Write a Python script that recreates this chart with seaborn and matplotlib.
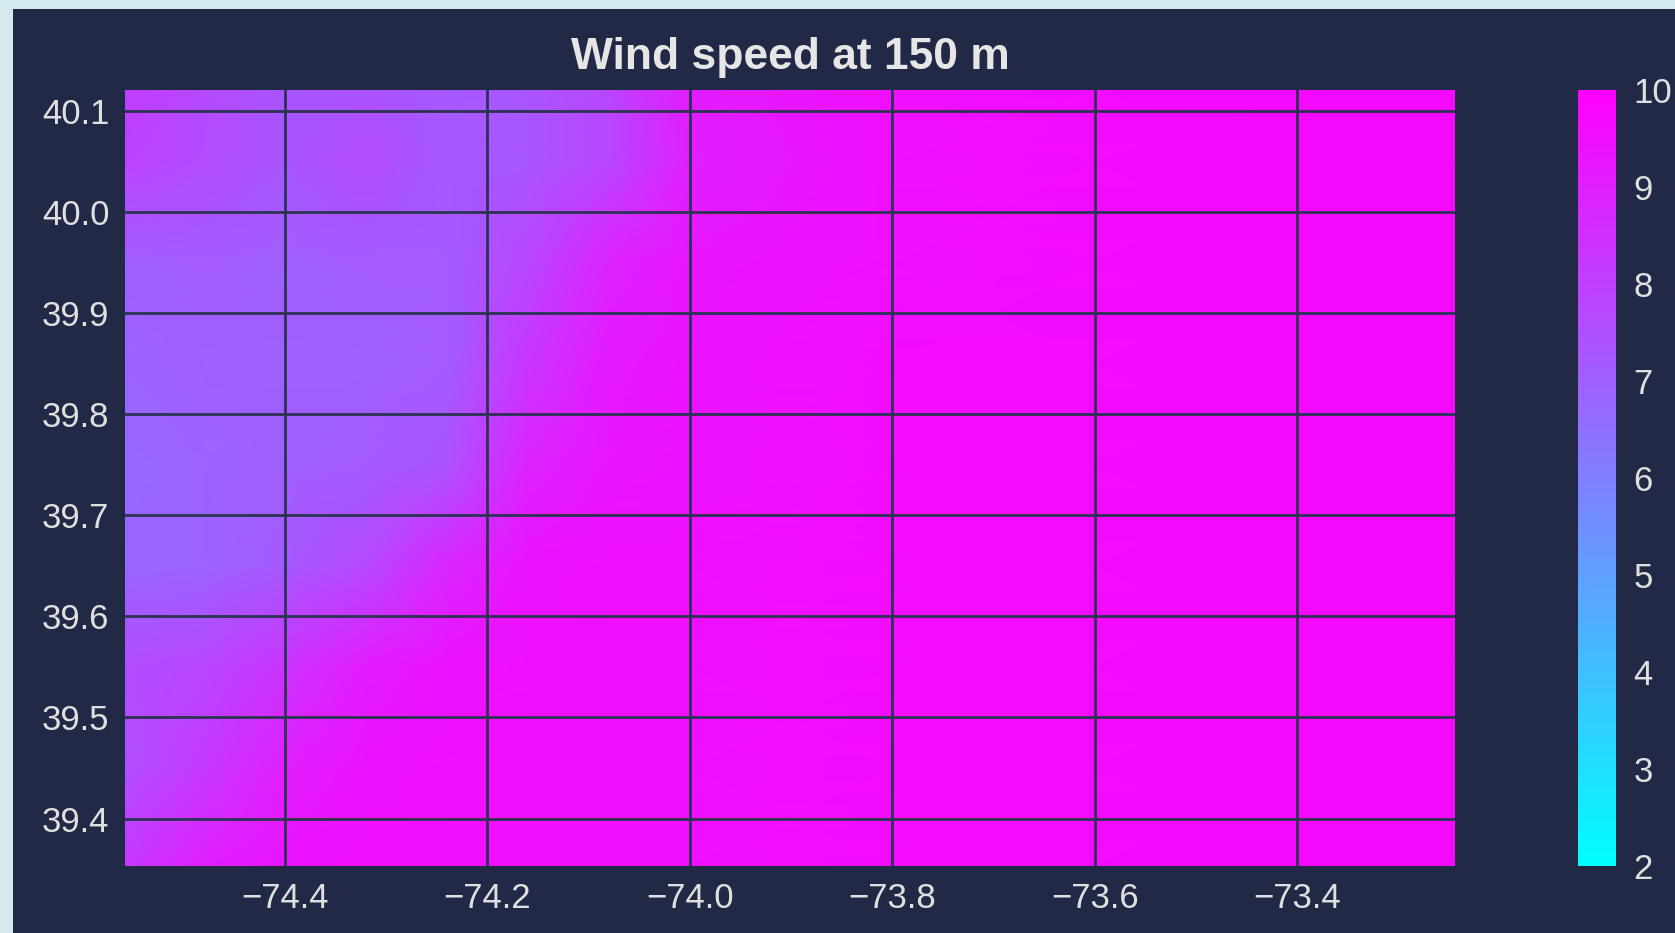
import numpy as np
import matplotlib
matplotlib.use("Agg")
import matplotlib.pyplot as plt
from matplotlib.patches import Rectangle
import seaborn as sns

# grid of wind speed samples (m/s), rows = latitude (south -> north), cols = longitude (west -> east)
lon = [-74.558, -74.48, -74.40, -74.32, -74.24, -74.16, -74.08, -74.00, -73.80, -73.60, -73.40, -73.244]
lat = [39.353, 39.45, 39.55, 39.65, 39.75, 39.85, 39.95, 40.05, 40.121]
speed = [
    [8.2, 9.0, 9.4, 9.5, 9.5, 9.5, 9.5, 9.5, 9.6, 9.6, 9.7, 9.7],
    [7.5, 8.2, 9.0, 9.4, 9.5, 9.5, 9.5, 9.5, 9.6, 9.6, 9.7, 9.7],
    [7.6, 7.8, 8.4, 9.1, 9.4, 9.5, 9.5, 9.5, 9.6, 9.6, 9.7, 9.7],
    [6.8, 6.9, 7.2, 7.7, 8.8, 9.4, 9.5, 9.5, 9.6, 9.6, 9.7, 9.7],
    [6.7, 6.9, 7.0, 7.1, 7.4, 8.9, 9.3, 9.4, 9.6, 9.6, 9.7, 9.7],
    [6.9, 7.0, 7.0, 7.0, 7.1, 8.3, 9.2, 9.4, 9.6, 9.6, 9.7, 9.7],
    [7.0, 7.1, 7.0, 7.1, 7.1, 7.8, 8.9, 9.3, 9.5, 9.6, 9.7, 9.7],
    [7.9, 7.6, 7.3, 7.6, 7.2, 7.3, 7.8, 9.0, 9.5, 9.6, 9.7, 9.7],
    [8.1, 7.7, 7.3, 7.4, 7.2, 7.3, 7.8, 9.1, 9.5, 9.6, 9.7, 9.7],
]
vmin, vmax = 2, 10
title = "Wind speed at 150 m"

bg = "#212946"
grid_col = "#2c3352"
txt = "0.88"

sns.set_theme(style="dark", rc={
    "axes.facecolor": bg,
    "figure.facecolor": "#d4eaef",
    "text.color": txt,
    "xtick.color": txt,
    "ytick.color": txt,
    "grid.color": grid_col,
})
plt.rcParams["font.family"] = ["Liberation Sans", "DejaVu Sans"]

fig = plt.figure(figsize=(6.7, 3.732), dpi=250)
# dark panel (the light strip on left/top is page background)
fig.patches.append(Rectangle((13 / 1675, 0), 1, 1 - 9 / 933, transform=fig.transFigure,
                             facecolor=bg, edgecolor="none", zorder=-1))

ax = fig.add_axes([125 / 1675, 67 / 933, 1330 / 1675, 776 / 933])
cax = fig.add_axes([1578 / 1675, 67 / 933, 38 / 1675, 776 / 933])

X, Y = np.meshgrid(lon, lat)
mesh = ax.pcolormesh(X, Y, np.array(speed), shading="gouraud", cmap="cool",
                     vmin=vmin, vmax=vmax, zorder=0)
ax.set_xlim(lon[0], lon[-1])
ax.set_ylim(lat[0], lat[-1])
ax.set_xticks([-74.4, -74.2, -74.0, -73.8, -73.6, -73.4])
ax.set_yticks([39.4, 39.5, 39.6, 39.7, 39.8, 39.9, 40.0, 40.1])
ax.set_axisbelow(False)
ax.grid(True, color=grid_col, linewidth=0.8, zorder=2)
ax.tick_params(length=0, labelsize=10, pad=4.5)
for s in ax.spines.values():
    s.set_visible(False)
ax.set_title(title, fontsize=12.8, fontweight="bold", color="0.9", pad=6)

cbar = fig.colorbar(mesh, cax=cax)
cbar.set_ticks(range(2, 11))
cbar.outline.set_visible(False)
cax.tick_params(length=0, labelsize=10, pad=5, colors=txt)

fig.savefig("out.png", dpi=250, facecolor=fig.get_facecolor())
